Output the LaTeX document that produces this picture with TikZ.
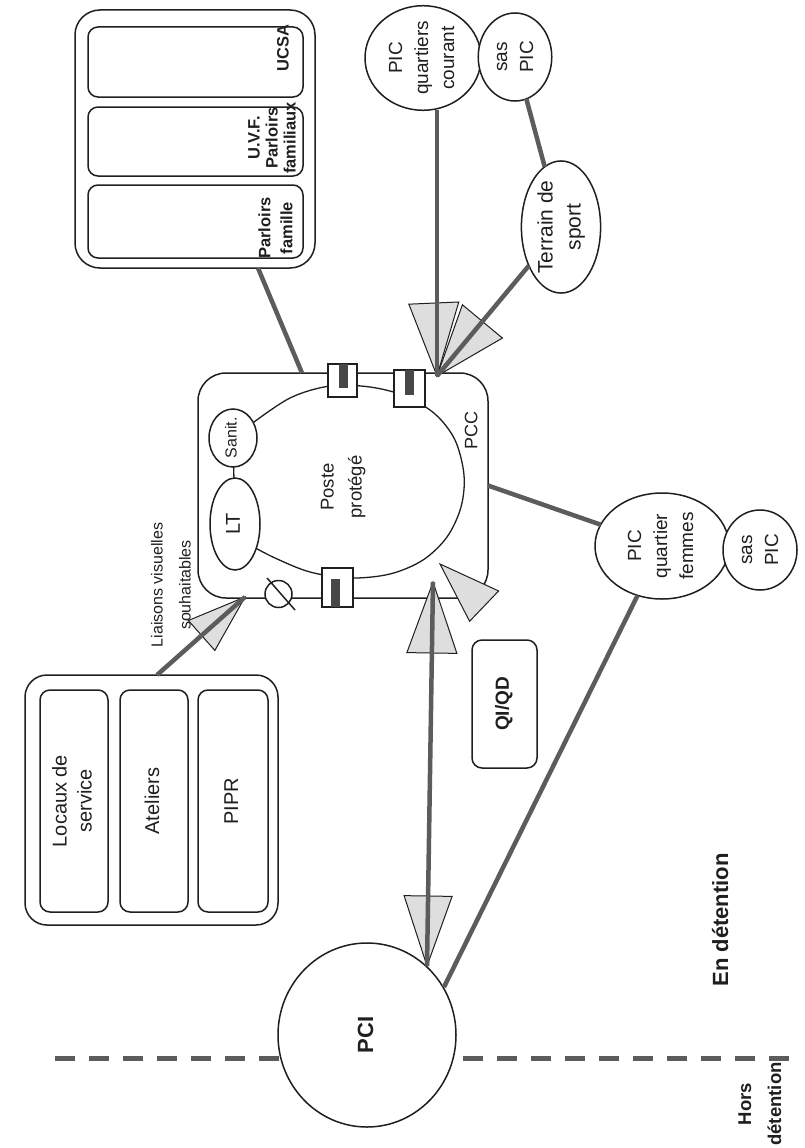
\documentclass[tikz,border=0pt]{standalone}
\usepackage{fontspec}
\setmainfont{Liberation Sans}
\usepackage{graphicx}
\usetikzlibrary{calc,shapes.geometric}

\newcommand{\vtext}[1]{\rotatebox{90}{\begin{tabular}{@{}c@{}}#1\end{tabular}}}
\newcommand{\bigtip}[4]{%
  \path ($(#2)!#3!(#1)$) coordinate (bt-base);
  \filldraw[tipshape] (#2) -- ($(bt-base)!#4!90:(#2)$) -- ($(bt-base)!#4!-90:(#2)$) -- cycle;}

\definecolor{conncol}{gray}{0.36}
\definecolor{barcol}{gray}{0.28}
\definecolor{tipfill}{gray}{0.87}
\definecolor{ink}{gray}{0.12}

\begin{document}
\begin{tikzpicture}[x=1pt,y=-1pt,
  every node/.style={inner sep=0pt, outer sep=0pt, text=ink},
  outline/.style={draw=ink, line width=1.5pt},
  oval/.style={ellipse, outline, fill=white},
  rbox/.style={rectangle, outline, fill=white, rounded corners=#1},
  rbox/.default=10pt,
  conn/.style={draw=conncol, line width=4.5pt},
  thinlink/.style={draw=ink, line width=1.3pt},
  tipshape/.style={draw=ink, line width=1pt, fill=tipfill, line join=miter},
  sepline/.style={draw=conncol, line width=5pt, dash pattern=on 20pt off 14pt},
  doorbox/.style={draw=ink, line width=1.2pt, fill=white},
  fA/.style={font=\fontsize{19}{26}\selectfont},
  fB/.style={font=\fontsize{16}{28}\selectfont},
  fC/.style={font=\fontsize{20}{25}\selectfont},
  fD/.style={font=\bfseries\fontsize{16.5}{18}\selectfont},
  fE/.style={font=\bfseries\fontsize{22}{30}\selectfont},
]
\useasboundingbox (0,0) rectangle (805,1148);
\fill[white] (0,0) rectangle (805,1148);

% separator Hors / En detention
\draw[sepline] (55,1058) -- (795,1058);

% ---------- top-left block ----------
\node[rbox=25pt, minimum width=240, minimum height=258] (parloirs) at (195,139) {};
\node[rbox=10pt, minimum width=215, minimum height=70] (ucsa) at (195.5,62) {};
\node[rbox=10pt, minimum width=215, minimum height=69] (uvf) at (195.5,141.5) {};
\node[rbox=10pt, minimum width=215, minimum height=73] (parfam) at (195.5,221.5) {};
\node[fD] (ucsa-t) at (285,48) {\vtext{UCSA}};
\node[fD] (uvf-t) at (274,138) {\vtext{U.V.F.\\Parloirs\\familiaux}};
\node[fD, font=\bfseries\fontsize{16.5}{22}\selectfont] (parfam-t) at (277,228) {\vtext{Parloirs\\famille}};

% ---------- top right ellipses ----------
\node[oval, minimum width=116, minimum height=104, fA] (piccourant) at (423,58) {\vtext{PIC\\quartiers\\courant}};
\node[oval, minimum width=68, minimum height=88, fA] (sascourant) at (515,57) {\vtext{sas\\PIC}};
\node[oval, minimum width=68, minimum height=122, font=\fontsize{21}{28}\selectfont] (terrain) at (561,227) {\vtext{Terrain de\\sport}};

% ---------- PCC ----------
\node[rbox=28pt, minimum width=290, minimum height=225] (pcc) at (343,485.5) {};
\draw[outline, line width=1.3pt] plot[smooth, tension=0.55] coordinates {
  (250,425) (290,398) (330,386) (370,387) (405,396) (435,414) (455,440)
  (464,475) (461,507) (447,537) (423,560) (390,574) (350,578) (310,572)
  (275,558) (250,545)};
\node[oval, minimum width=50, minimum height=92, font=\fontsize{20}{24}\selectfont] (lt) at (235,524) {\vtext{LT}};
\node[oval, minimum width=48, minimum height=58, font=\fontsize{16}{18}\selectfont] (sanit) at (233,438) {\vtext{Sanit.}};
\draw[thinlink] (lt) -- (sanit);
\node[font=\fontsize{18.5}{28}\selectfont] (poste) at (342,487) {\vtext{Poste\\protégé}};
\node[font=\fontsize{18}{22}\selectfont] (pcc-t) at (473,430) {\vtext{PCC}};

% doors
\filldraw[doorbox] (328,364) rectangle (357,397);
\fill[barcol] (338.5,364) rectangle (347.5,388);
\filldraw[doorbox] (394,370) rectangle (425,407);
\fill[barcol] (404.5,370) rectangle (413.5,395);
\filldraw[doorbox] (322,568) rectangle (353,607);
\fill[barcol] (330.5,579) rectangle (339.5,607);
% no-passage sign
\filldraw[outline, fill=white] (278.5,594) circle (13.5);
\draw[outline] (267,578) -- (295,610);

% ---------- women quarter ----------
\node[oval, minimum width=134, minimum height=106, fA] (femmes) at (662,546) {\vtext{PIC\\quartier\\femmes}};
\node[oval, minimum width=74, minimum height=80, fA] (sasfemmes) at (760,550) {\vtext{sas\\PIC}};

% ---------- QI/QD ----------
\node[rbox=10pt, minimum width=65, minimum height=128, font=\bfseries\fontsize{19}{22}\selectfont] (qiqd) at (504.5,704) {\vtext{QI/QD}};

% ---------- Locaux block ----------
\node[rbox=22pt, minimum width=253, minimum height=250] (locaux) at (151.5,800) {};
\node[rbox=10pt, minimum width=68, minimum height=222, fC] (loc1) at (74,801) {\vtext{Locaux de\\service}};
\node[rbox=10pt, minimum width=68, minimum height=222, fC] (loc2) at (154,801) {\vtext{Ateliers}};
\node[rbox=10pt, minimum width=70, minimum height=222, fC] (loc3) at (233,801) {\vtext{PIPR}};
\node[fB] (liaisons) at (171,585) {\vtext{Liaisons visuelles\\souhaitables}};

% ---------- PCI ----------
\node[oval, minimum width=178, minimum height=184, fE] (pci) at (367,1035) {\vtext{PCI}};
\node[font=\bfseries\fontsize{18.5}{30}\selectfont] (hors) at (760,1104) {\vtext{Hors\\détention}};
\node[fE] (en) at (722,920) {\vtext{En détention}};

% ---------- arrow tips and connectors ----------
\coordinate (tipA) at (437,376);
\coordinate (tipB) at (433,582);
\coordinate (tipC) at (427,966);
\coordinate (tipD) at (245,597);
\coordinate (tipE) at (440,564);
\coordinate (srcE) at (528,648);
\coordinate (locout) at (157,675);
\coordinate (parlout) at (258,268);
\coordinate (pccin) at (302,373);
\coordinate (pcine) at (444,987);

\bigtip{piccourant}{tipA}{73pt}{25pt}
\bigtip{terrain}{tipA}{71pt}{26pt}
\bigtip{tipC}{tipB}{71pt}{25pt}
\bigtip{tipB}{tipC}{70pt}{24pt}
\bigtip{locout}{tipD}{58pt}{20pt}
\bigtip{srcE}{tipE}{61pt}{21pt}

\draw[conn] (piccourant.south -| tipA) -- (tipA);
\draw[conn] (terrain) -- (tipA);
\draw[conn] (sascourant) -- (terrain);
\draw[conn] (tipB) -- (tipC);
\draw[conn] (locout) -- (tipD);
\draw[conn] (pcc.east) -- (femmes);
\draw[conn] (femmes) -- (pcine);
\draw[conn] (parlout) -- (pccin);
\end{tikzpicture}
\end{document}
